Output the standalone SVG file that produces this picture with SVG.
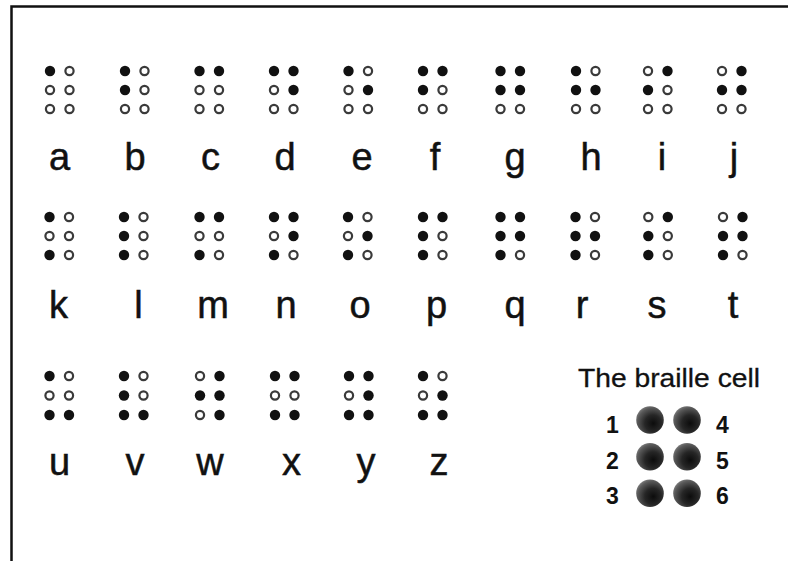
<svg xmlns="http://www.w3.org/2000/svg" xmlns:xlink="http://www.w3.org/1999/xlink" width="788" height="561" viewBox="0 0 788 561">
<style>
.f{fill:#111}
.o{fill:#fff;stroke:#3a3a3a;stroke-width:2.2}
.lt{font-family:"Liberation Sans",Arial,sans-serif;font-size:38px;fill:#111;stroke:#111;stroke-width:0.5;text-anchor:middle}
.num{font-family:"Liberation Sans",Arial,sans-serif;font-size:23px;font-weight:bold;fill:#111;text-anchor:middle}
.title{font-family:"Liberation Sans",Arial,sans-serif;font-size:26px;fill:#111;stroke:#111;stroke-width:0.3}
.big{fill:url(#g)}
</style>
<defs>
<circle id="F" class="f" r="5.2"/>
<circle id="O" class="o" r="4.1"/>
<radialGradient id="g" cx="0.6" cy="0.62" r="0.75" fx="0.62" fy="0.62">
<stop offset="0" stop-color="#0c0c0c"/>
<stop offset="0.4" stop-color="#262626"/>
<stop offset="0.75" stop-color="#5a5a5a"/>
<stop offset="1" stop-color="#9a9a9a"/>
</radialGradient>
</defs>
<rect width="788" height="561" fill="#fff"/>
<g id="frame" fill="none" stroke="#111" stroke-width="2.5">
<path d="M11.5 561 V6.5 H788"/>
</g>

<!-- row 1 -->
<g id="cell-a" transform="translate(50,71)"><use href="#F"/><use href="#O" y="19"/><use href="#O" y="38"/><use href="#O" x="19.5"/><use href="#O" x="19.5" y="19"/><use href="#O" x="19.5" y="38"/></g>
<g id="cell-b" transform="translate(125,71)"><use href="#F"/><use href="#F" y="19"/><use href="#O" y="38"/><use href="#O" x="19.5"/><use href="#O" x="19.5" y="19"/><use href="#O" x="19.5" y="38"/></g>
<g id="cell-c" transform="translate(199.5,71)"><use href="#F"/><use href="#O" y="19"/><use href="#O" y="38"/><use href="#F" x="19.5"/><use href="#O" x="19.5" y="19"/><use href="#O" x="19.5" y="38"/></g>
<g id="cell-d" transform="translate(274,71)"><use href="#F"/><use href="#O" y="19"/><use href="#O" y="38"/><use href="#F" x="19.5"/><use href="#F" x="19.5" y="19"/><use href="#O" x="19.5" y="38"/></g>
<g id="cell-e" transform="translate(348.5,71)"><use href="#F"/><use href="#O" y="19"/><use href="#O" y="38"/><use href="#O" x="19.5"/><use href="#F" x="19.5" y="19"/><use href="#O" x="19.5" y="38"/></g>
<g id="cell-f" transform="translate(423,71)"><use href="#F"/><use href="#F" y="19"/><use href="#O" y="38"/><use href="#F" x="19.5"/><use href="#O" x="19.5" y="19"/><use href="#O" x="19.5" y="38"/></g>
<g id="cell-g" transform="translate(500.5,71)"><use href="#F"/><use href="#F" y="19"/><use href="#O" y="38"/><use href="#F" x="19.5"/><use href="#F" x="19.5" y="19"/><use href="#O" x="19.5" y="38"/></g>
<g id="cell-h" transform="translate(576,71)"><use href="#F"/><use href="#F" y="19"/><use href="#O" y="38"/><use href="#O" x="19.5"/><use href="#F" x="19.5" y="19"/><use href="#O" x="19.5" y="38"/></g>
<g id="cell-i" transform="translate(648,71)"><use href="#O"/><use href="#F" y="19"/><use href="#O" y="38"/><use href="#F" x="19.5"/><use href="#O" x="19.5" y="19"/><use href="#O" x="19.5" y="38"/></g>
<g id="cell-j" transform="translate(722,71)"><use href="#O"/><use href="#F" y="19"/><use href="#O" y="38"/><use href="#F" x="19.5"/><use href="#F" x="19.5" y="19"/><use href="#O" x="19.5" y="38"/></g>

<!-- row 2 -->
<g id="cell-k" transform="translate(49.5,217)"><use href="#F"/><use href="#O" y="19"/><use href="#F" y="38"/><use href="#O" x="19.5"/><use href="#O" x="19.5" y="19"/><use href="#O" x="19.5" y="38"/></g>
<g id="cell-l" transform="translate(124,217)"><use href="#F"/><use href="#F" y="19"/><use href="#F" y="38"/><use href="#O" x="19.5"/><use href="#O" x="19.5" y="19"/><use href="#O" x="19.5" y="38"/></g>
<g id="cell-m" transform="translate(199.5,217)"><use href="#F"/><use href="#O" y="19"/><use href="#F" y="38"/><use href="#F" x="19.5"/><use href="#O" x="19.5" y="19"/><use href="#O" x="19.5" y="38"/></g>
<g id="cell-n" transform="translate(274,217)"><use href="#F"/><use href="#O" y="19"/><use href="#F" y="38"/><use href="#F" x="19.5"/><use href="#F" x="19.5" y="19"/><use href="#O" x="19.5" y="38"/></g>
<g id="cell-o" transform="translate(348,217)"><use href="#F"/><use href="#O" y="19"/><use href="#F" y="38"/><use href="#O" x="19.5"/><use href="#F" x="19.5" y="19"/><use href="#O" x="19.5" y="38"/></g>
<g id="cell-p" transform="translate(423,217)"><use href="#F"/><use href="#F" y="19"/><use href="#F" y="38"/><use href="#F" x="19.5"/><use href="#O" x="19.5" y="19"/><use href="#O" x="19.5" y="38"/></g>
<g id="cell-q" transform="translate(500.5,217)"><use href="#F"/><use href="#F" y="19"/><use href="#F" y="38"/><use href="#F" x="19.5"/><use href="#F" x="19.5" y="19"/><use href="#O" x="19.5" y="38"/></g>
<g id="cell-r" transform="translate(575.5,217)"><use href="#F"/><use href="#F" y="19"/><use href="#F" y="38"/><use href="#O" x="19.5"/><use href="#F" x="19.5" y="19"/><use href="#O" x="19.5" y="38"/></g>
<g id="cell-s" transform="translate(648.3,217)"><use href="#O"/><use href="#F" y="19"/><use href="#F" y="38"/><use href="#F" x="19.5"/><use href="#O" x="19.5" y="19"/><use href="#O" x="19.5" y="38"/></g>
<g id="cell-t" transform="translate(723,217)"><use href="#O"/><use href="#F" y="19"/><use href="#F" y="38"/><use href="#F" x="19.5"/><use href="#F" x="19.5" y="19"/><use href="#O" x="19.5" y="38"/></g>

<!-- row 3 -->
<g id="cell-u" transform="translate(49.5,376)"><use href="#F"/><use href="#O" y="19.5"/><use href="#F" y="39"/><use href="#O" x="19.5"/><use href="#O" x="19.5" y="19.5"/><use href="#F" x="19.5" y="39"/></g>
<g id="cell-v" transform="translate(124,376)"><use href="#F"/><use href="#F" y="19.5"/><use href="#F" y="39"/><use href="#O" x="19.5"/><use href="#O" x="19.5" y="19.5"/><use href="#F" x="19.5" y="39"/></g>
<g id="cell-w" transform="translate(200,376)"><use href="#O"/><use href="#F" y="19.5"/><use href="#O" y="39"/><use href="#F" x="19.5"/><use href="#F" x="19.5" y="19.5"/><use href="#F" x="19.5" y="39"/></g>
<g id="cell-x" transform="translate(275,376)"><use href="#F"/><use href="#O" y="19.5"/><use href="#F" y="39"/><use href="#F" x="19.5"/><use href="#O" x="19.5" y="19.5"/><use href="#F" x="19.5" y="39"/></g>
<g id="cell-y" transform="translate(349,376)"><use href="#F"/><use href="#O" y="19.5"/><use href="#F" y="39"/><use href="#F" x="19.5"/><use href="#F" x="19.5" y="19.5"/><use href="#F" x="19.5" y="39"/></g>
<g id="cell-z" transform="translate(423,376)"><use href="#F"/><use href="#O" y="19.5"/><use href="#F" y="39"/><use href="#O" x="19.5"/><use href="#F" x="19.5" y="19.5"/><use href="#F" x="19.5" y="39"/></g>

<g id="letters">
<text class="lt" x="59.5" y="170">a</text>
<text class="lt" x="135" y="170">b</text>
<text class="lt" x="210.5" y="170">c</text>
<text class="lt" x="285" y="170">d</text>
<text class="lt" x="362" y="170">e</text>
<text class="lt" x="435" y="170">f</text>
<text class="lt" x="515" y="170">g</text>
<text class="lt" x="591" y="170">h</text>
<text class="lt" x="662" y="170">i</text>
<text class="lt" x="734" y="170">j</text>
<text class="lt" x="58.5" y="318">k</text>
<text class="lt" x="138.5" y="318">l</text>
<text class="lt" x="213" y="318">m</text>
<text class="lt" x="286" y="318">n</text>
<text class="lt" x="360" y="318">o</text>
<text class="lt" x="436.5" y="318">p</text>
<text class="lt" x="515" y="318">q</text>
<text class="lt" x="582" y="318">r</text>
<text class="lt" x="657" y="318">s</text>
<text class="lt" x="733" y="318">t</text>
<text class="lt" x="59.5" y="475">u</text>
<text class="lt" x="135" y="475">v</text>
<text class="lt" x="210" y="475">w</text>
<text class="lt" x="291.5" y="475">x</text>
<text class="lt" x="366" y="475">y</text>
<text class="lt" x="439" y="475">z</text>
</g>

<g id="braille-cell-legend">
<text class="title" x="578" y="387" textLength="182" lengthAdjust="spacingAndGlyphs">The braille cell</text>
<circle class="big" cx="650" cy="420" r="13.8"/>
<circle class="big" cx="687" cy="420" r="13.8"/>
<circle class="big" cx="650" cy="456.7" r="13.8"/>
<circle class="big" cx="687" cy="456.7" r="13.8"/>
<circle class="big" cx="650" cy="493.3" r="13.8"/>
<circle class="big" cx="687" cy="493.3" r="13.8"/>
<text class="num" x="612.5" y="433">1</text>
<text class="num" x="612.5" y="468.5">2</text>
<text class="num" x="612.5" y="503.5">3</text>
<text class="num" x="722.5" y="433">4</text>
<text class="num" x="722.5" y="468.5">5</text>
<text class="num" x="722.5" y="503.5">6</text>
</g>
</svg>
